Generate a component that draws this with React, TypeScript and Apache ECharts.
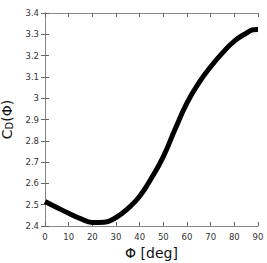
import React, { useEffect, useRef } from "react";
import * as echarts from "echarts";

const phiDeg = [0, 5, 10, 15, 20, 25, 30, 35, 40, 45, 50, 55, 60, 65, 70, 75, 80, 85, 88, 90];
const cdValues = [2.515, 2.487, 2.46, 2.435, 2.417, 2.418, 2.44, 2.482, 2.54, 2.625, 2.726, 2.855, 2.978, 3.072, 3.148, 3.213, 3.268, 3.305, 3.321, 3.322];
const xTicks = [0, 10, 20, 30, 40, 50, 60, 70, 80, 90];
const yTicks = [2.4, 2.5, 2.6, 2.7, 2.8, 2.9, 3, 3.1, 3.2, 3.3, 3.4];

export default function App() {
  const ref = useRef<HTMLDivElement>(null);
  useEffect(() => {
    if (!ref.current) return;
    document.body.style.margin = "0";
    document.body.style.overflow = "hidden";
    const chart = echarts.init(ref.current, null, { renderer: "svg" });
    const font = "DejaVu Sans";
    const axisLine = { show: true, lineStyle: { color: "#888", width: 1 } };
    const tick = { show: true, inside: true, length: 4, lineStyle: { color: "#666" } };
    chart.setOption({
      animation: false,
      backgroundColor: "#fff",
      grid: { left: 45, top: 13, width: 213, height: 213, containLabel: false, outerBoundsMode: "none" },
      xAxis: [
        {
          type: "value",
          min: xTicks[0],
          max: xTicks[xTicks.length - 1],
          interval: 10,
          axisLine,
          axisTick: tick,
          splitLine: { show: false },
          axisLabel: { color: "#333", fontSize: 8.5, fontFamily: font, margin: 6 },
          name: "Φ [deg]",
          nameLocation: "middle",
          nameGap: 18,
          nameTextStyle: { color: "#111", fontSize: 14, fontFamily: font },
        },
        {
          type: "value",
          position: "top",
          min: xTicks[0],
          max: xTicks[xTicks.length - 1],
          interval: 10,
          axisLine,
          axisTick: tick,
          splitLine: { show: false },
          axisLabel: { show: false },
        },
      ],
      yAxis: [
        {
          type: "value",
          min: yTicks[0],
          max: yTicks[yTicks.length - 1],
          interval: 0.1,
          axisLine,
          axisTick: tick,
          splitLine: { show: false },
          axisLabel: {
            color: "#333",
            fontSize: 8.5,
            fontFamily: font,
            margin: 6,
            formatter: (v: number) => String(parseFloat(v.toFixed(1))),
          },
          name: "C{sub|D}(Φ)",
          nameLocation: "middle",
          nameGap: 13,
          nameRotate: 90,
          nameTextStyle: {
            color: "#111",
            fontSize: 14,
            fontFamily: font,
            rich: { sub: { fontSize: 10, padding: [6, 0, 0, 0], fontFamily: font, color: "#111" } },
          },
        },
        {
          type: "value",
          position: "right",
          min: yTicks[0],
          max: yTicks[yTicks.length - 1],
          interval: 0.1,
          axisLine,
          axisTick: tick,
          splitLine: { show: false },
          axisLabel: { show: false },
        },
      ],
      series: [
        {
          type: "line",
          data: phiDeg.map((p, i) => [p, cdValues[i]]),
          smooth: 0.5,
          symbol: "none",
          lineStyle: { color: "#000", width: 5 },
          clip: false,
        },
      ],
    });
    return () => chart.dispose();
  }, []);
  return <div ref={ref} style={{ width: 267, height: 263 }} />;
}
